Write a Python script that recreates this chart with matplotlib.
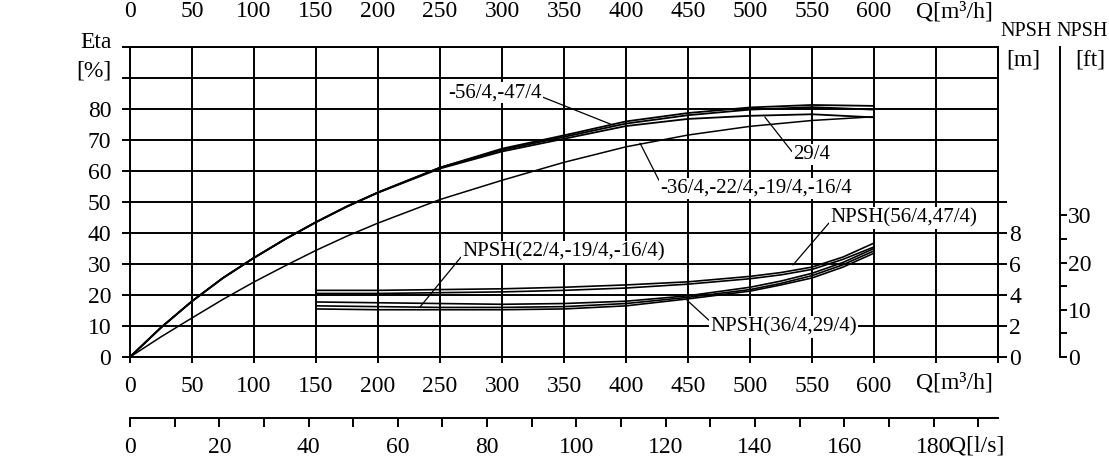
import matplotlib
matplotlib.use('Agg')
import matplotlib.pyplot as plt
from matplotlib.transforms import blended_transform_factory

plt.rcParams['font.family'] = ['Liberation Serif', 'DejaVu Serif']

# efficiency curves, Q in m3/h, Eta in %
FLOW = [0, 25, 50, 75, 100, 125, 150, 175, 200, 250, 300, 350, 400, 450, 500, 550, 600]
ETA_56 = [0, 9.5, 18, 25.5, 32, 38, 43.5, 48.6, 53.1, 61.1, 67.2, 71.5, 76.0, 78.7, 80.5, 81.3, 81.0]
ETA_47 = [0, 9.5, 18, 25.5, 32, 38, 43.5, 48.6, 53.1, 61.1, 66.8, 71.0, 75.3, 78.0, 79.8, 80.6, 79.8]
ETA_29 = [0, 9.5, 18, 25.5, 32, 38, 43.5, 48.5, 53.0, 60.8, 66.3, 70.4, 74.5, 76.8, 77.8, 78.3, 77.3]
ETA_36 = [0, 6.5, 12.6, 18.6, 24.2, 29.4, 34.4, 39.0, 43.2, 50.8, 57.0, 62.8, 67.8, 71.6, 74.4, 76.3, 77.5]

# NPSH curves, Q in m3/h, NPSH in m
NPSH_FLOW = [150, 200, 250, 300, 350, 400, 450, 500, 525, 550, 575, 600]
NPSH_22 = [4.3, 4.3, 4.35, 4.4, 4.5, 4.65, 4.85, 5.2, 5.45, 5.8, 6.45, 7.35]
NPSH_19 = [4.1, 4.1, 4.15, 4.2, 4.3, 4.45, 4.7, 5.05, 5.3, 5.65, 6.3, 7.1]
NPSH_56 = [3.55, 3.5, 3.45, 3.4, 3.45, 3.6, 3.95, 4.5, 4.9, 5.4, 6.1, 7.0]
NPSH_36 = [3.3, 3.25, 3.2, 3.2, 3.25, 3.45, 3.85, 4.35, 4.75, 5.25, 5.95, 6.85]
NPSH_29 = [3.1, 3.05, 3.05, 3.05, 3.1, 3.3, 3.75, 4.25, 4.65, 5.1, 5.8, 6.7]

Q_TICKS = list(range(0, 701, 50))
Q_LABELS = [str(q) if q <= 600 else '' for q in Q_TICKS]
ETA_TICKS = list(range(0, 101, 10))
ETA_LABELS = [str(v) if v <= 80 else '' for v in ETA_TICKS]
NPSH_M_TICKS = [0, 2, 4, 6, 8, 10]
NPSH_M_LABELS = ['0', '2', '4', '6', '8', '']
NPSH_FT_TICKS = [0, 10, 20, 30]
NPSH_FT_MINOR = [5, 15, 25]
QLS_TICKS = list(range(0, 181, 20))
QLS_MINOR = list(range(10, 191, 20))

W, H = 1109, 471
LW = 1.4
FS = 17
LABEL_FS = 15


def px_box(x0, y0, x1, y1):
    """Figure fraction box from pixel corners (top-left origin)."""
    return [x0 / W, 1 - y1 / H, (x1 - x0) / W, (y1 - y0) / H]


def label(axis, text, xy, xytext, relpos):
    axis.annotate(text, xy=xy, xytext=xytext, ha='left', va='center', fontsize=LABEL_FS,
                  bbox=dict(boxstyle='square,pad=0.05', fc='white', ec='none'),
                  arrowprops=dict(arrowstyle='-', lw=0.9, color='black', relpos=relpos,
                                  shrinkA=0, shrinkB=0), zorder=5)


fig = plt.figure(figsize=(W / 100, H / 100), dpi=100)

# main axes: Eta
ax = fig.add_axes(px_box(130, 47, 998, 357))
ax.set_xlim(0, 700)
ax.set_ylim(0, 100)
ax.set_xticks(Q_TICKS)
ax.set_xticklabels(Q_LABELS)
ax.set_yticks(ETA_TICKS)
ax.set_yticklabels(ETA_LABELS)
ax.grid(True, color='black', lw=LW)
ax.tick_params(axis='x', direction='out', length=4.5, width=LW, labelsize=FS, pad=9)
ax.tick_params(axis='y', direction='out', length=6, width=LW, labelsize=FS, pad=7.5)
for s in ax.spines.values():
    s.set_linewidth(LW)

for eta, lw in [(ETA_56, 1.3), (ETA_47, 1.3), (ETA_29, 1.3), (ETA_36, 1.1)]:
    ax.plot(FLOW, eta, color='black', lw=lw, zorder=4)

ax.text(665, -0.085, 'Q[m³/h]', transform=ax.get_xaxis_transform(), ha='center', va='center', fontsize=FS)
fig.text(112 / W, 1 - 43 / H, 'Eta', ha='right', va='center', fontsize=FS)
fig.text(112 / W, 1 - 71 / H, '[%]', ha='right', va='center', fontsize=FS)

label(ax, '-56/4,-47/4', (389.5, 74.8), (256.5, 85.2), (1.0, 0.3))
label(ax, '29/4', (512, 77.4), (534.7, 65.2), (0.0, 0.6))
label(ax, '-36/4,-22/4,-19/4,-16/4', (411.3, 69.0), (427.4, 54.5), (0.0, 0.8))

# NPSH [m] axis
axn = ax.twinx()
axn.set_ylim(0, 20)
axn.set_yticks(NPSH_M_TICKS)
axn.set_yticklabels(NPSH_M_LABELS)
axn.tick_params(direction='out', length=6.5, width=LW, labelsize=FS, pad=1.5)
for s in axn.spines.values():
    s.set_visible(False)
axn.spines['right'].set_visible(True)
axn.spines['right'].set_linewidth(LW)

for npsh in [NPSH_22, NPSH_19, NPSH_56, NPSH_36, NPSH_29]:
    axn.plot(NPSH_FLOW, npsh, color='black', lw=1.2)

label(axn, 'NPSH(56/4,47/4)', (534.7, 5.94), (564.5, 8.97), (0.0, 0.3))
label(axn, 'NPSH(22/4,-19/4,-16/4)', (233.9, 3.23), (267.7, 6.77), (0.0, 0.3))
label(axn, 'NPSH(36/4,29/4)', (449, 3.68), (467.7, 1.94), (0.0, 0.8))

fig.text(1052 / W, 1 - 32 / H, 'NPSH', ha='right', va='center', fontsize=14.5)
fig.text(1040 / W, 1 - 60 / H, '[m]', ha='right', va='center', fontsize=FS)

# NPSH [ft] axis
axf = ax.twinx()
axf.spines['right'].set_position(('outward', 62 * 0.72))
axf.set_ylim(0, 20 * 3.28084)
axf.set_yticks(NPSH_FT_TICKS)
axf.set_yticks(NPSH_FT_MINOR, minor=True)
axf.tick_params(which='both', direction='out', length=5, width=LW, labelsize=FS, pad=0.5)
for s in axf.spines.values():
    s.set_visible(False)
axf.spines['right'].set_visible(True)
axf.spines['right'].set_linewidth(LW)

fig.text(1056 / W, 1 - 32 / H, 'NPSH', ha='left', va='center', fontsize=14.5)
fig.text(1075 / W, 1 - 60 / H, '[ft]', ha='left', va='center', fontsize=FS)

# Q [l/s] axis below
axq = fig.add_axes(px_box(130, 417.5, 998, 418))
axq.set_xlim(0, 700 / 3.6)
axq.set_xticks(QLS_TICKS)
axq.set_xticks(QLS_MINOR, minor=True)
axq.set_yticks([])
axq.patch.set_visible(False)
for name, s in axq.spines.items():
    s.set_visible(name == 'bottom')
axq.spines['bottom'].set_linewidth(LW)
axq.tick_params(which='both', direction='out', length=6.5, width=LW, labelsize=FS, pad=7)
tq = blended_transform_factory(axq.transData, fig.transFigure)
axq.text(189.7, 1 - 446 / H, 'Q[l/s]', transform=tq, ha='center', va='center', fontsize=FS)

# Q [m3/h] axis along the top edge
axt = fig.add_axes(px_box(130, -0.5, 998, 0))
axt.set_xlim(0, 700)
axt.set_xticks(Q_TICKS[:13])
axt.set_yticks([])
axt.patch.set_visible(False)
for s in axt.spines.values():
    s.set_visible(False)
axt.tick_params(length=0, labelsize=FS, pad=1)
tt = blended_transform_factory(axt.transData, fig.transFigure)
axt.text(665, 1 - 1.5 / H, 'Q[m³/h]', transform=tt, ha='center', va='top', fontsize=FS)

fig.savefig('out.png', dpi=100)
